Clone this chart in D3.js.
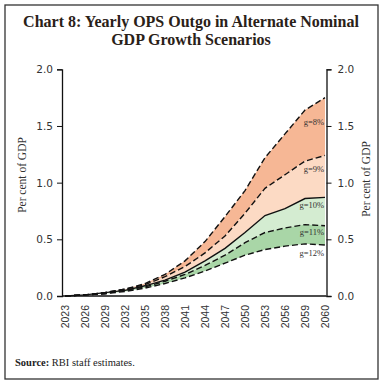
<!DOCTYPE html>
<html><head><meta charset="utf-8">
<script src="https://cdn.jsdelivr.net/npm/d3@7"></script>
<style>body{margin:0;background:#fff}svg{display:block}</style>
</head><body>
<script>
const years = ["2023","2026","2029","2032","2035","2038","2041","2044","2047","2050","2053","2056","2059","2060"];
const g8  = [0.00,0.01,0.03,0.06,0.11,0.19,0.31,0.48,0.70,0.93,1.22,1.43,1.64,1.75];
const g9  = [0.00,0.01,0.03,0.06,0.10,0.17,0.26,0.38,0.53,0.73,0.95,1.07,1.19,1.24];
const g10 = [0.00,0.01,0.03,0.05,0.09,0.14,0.21,0.31,0.42,0.56,0.71,0.77,0.86,0.87];
const g11 = [0.00,0.01,0.02,0.05,0.08,0.13,0.19,0.27,0.36,0.47,0.56,0.60,0.63,0.62];
const g12 = [0.00,0.01,0.02,0.04,0.07,0.11,0.16,0.22,0.29,0.36,0.41,0.44,0.46,0.45];
const seriesNames = ["g=8%","g=9%","g=10%","g=11%","g=12%"];
const yTicks = [0,0.5,1.0,1.5,2.0];

const series = [g8,g9,g10,g11,g12];
const dashes = ["6,3","6,3",null,"6,3","6,3"];
const fills = ["#f6b795","#fcdac4","#d4ecd1","#a9d6a7"];

const W=382,H=384;
const svg=d3.select("body").append("svg").attr("width",W).attr("height",H);
svg.append("rect").attr("x",5).attr("y",5).attr("width",373).attr("height",374)
  .attr("fill","#fff").attr("stroke","#333").attr("stroke-width",1.3);

const x=d3.scalePoint().domain(years).range([65,325]);
const y=d3.scaleLinear().domain([0,2]).range([296,69.3]);
const L=62,R=326.5;

// title
const title=svg.append("text").attr("text-anchor","middle").attr("font-family","Liberation Serif")
  .attr("font-weight","bold").attr("font-size",16).attr("fill","#2a2118");
title.append("tspan").attr("x",191).attr("y",27).text("Chart 8: Yearly OPS Outgo in Alternate Nominal");
title.append("tspan").attr("x",191).attr("y",45).text("GDP Growth Scenarios");

// areas
for(let k=0;k<4;k++){
  const top=series[k],bot=series[k+1];
  const area=d3.area().x((d,i)=>x(years[i])).y0((d,i)=>y(bot[i])).y1((d,i)=>y(top[i]));
  svg.append("path").datum(top).attr("d",area).attr("fill",fills[k]);
}
// lines
series.forEach((s,k)=>{
  const line=d3.line().x((d,i)=>x(years[i])).y(d=>y(d));
  svg.append("path").datum(s).attr("d",line).attr("fill","none").attr("stroke","#111")
    .attr("stroke-width",1.4).attr("stroke-dasharray",dashes[k]);
});

// axes
const axL=d3.axisLeft(y).tickValues(yTicks).tickFormat(d3.format(".1f")).tickSize(5).tickPadding(4);
const axR=d3.axisRight(y).tickValues(yTicks).tickFormat(d3.format(".1f")).tickSize(5).tickPadding(6);
const gL=svg.append("g").attr("transform",`translate(${L},0)`).call(axL);
const gR=svg.append("g").attr("transform",`translate(${R},0)`).call(axR);
[gL,gR].forEach(g=>{
  g.select(".domain").attr("stroke","#111").attr("stroke-width",1.3);
  g.selectAll(".tick line").attr("stroke","#111");
  g.selectAll("text").attr("font-family","DejaVu Sans").attr("font-size",10.5).attr("fill","#333");
});
const axB=d3.axisBottom(x).tickSize(0).tickPadding(0);
const gB=svg.append("g").attr("transform","translate(0,296)").call(axB);
gB.select(".domain").attr("d",`M${L},0H${R}`).attr("stroke","#111").attr("stroke-width",1.3);
gB.selectAll("text").attr("font-family","Liberation Sans").attr("font-size",10.5).attr("fill","#333")
  .attr("transform","rotate(-90)").attr("text-anchor","end").attr("x",-9).attr("y",0).attr("dy","0.35em");

// axis titles
svg.append("text").attr("transform","translate(26,175) rotate(-90)").attr("text-anchor","middle")
  .attr("font-family","Liberation Serif").attr("font-size",11.5).attr("fill","#333").text("Per cent of GDP");
svg.append("text").attr("transform","translate(370,179) rotate(-90)").attr("text-anchor","middle")
  .attr("font-family","Liberation Serif").attr("font-size",11.5).attr("fill","#333").text("Per cent of GDP");

// series labels
const labY=[125,172,208,235,256];
seriesNames.forEach((n,k)=>{
  svg.append("text").attr("x",324).attr("y",labY[k]).attr("text-anchor","end")
    .attr("font-family","Liberation Serif").attr("font-size",8.5).attr("fill","#333").text(n);
});

// source
const src=svg.append("text").attr("x",15).attr("y",366).attr("font-family","Liberation Serif")
  .attr("font-size",10.5).attr("fill","#222");
src.append("tspan").attr("font-weight","bold").text("Source:");
src.append("tspan").text(" RBI staff estimates.");
</script>
</body></html>
